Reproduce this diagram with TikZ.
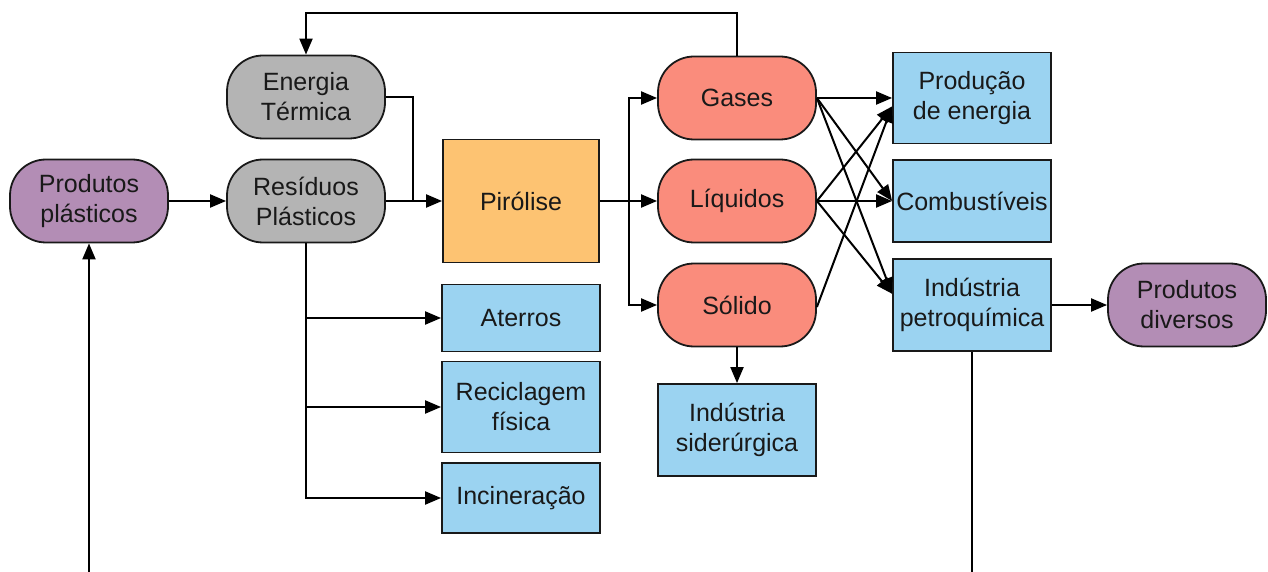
\documentclass[tikz,border=0pt]{standalone}
\usepackage{fontspec}
\setmainfont{Liberation Sans}
\usetikzlibrary{arrows.meta}

\definecolor{roxo}{HTML}{B38DB5}
\definecolor{cinza}{HTML}{B4B4B4}
\definecolor{laranja}{HTML}{FDC372}
\definecolor{salmao}{HTML}{FA8C7C}
\definecolor{azul}{HTML}{9BD3F1}

\begin{document}
\begin{tikzpicture}[x=0.5pt, y=-0.5pt,
    every node/.style={font=\fontsize{12.5}{15}\selectfont, align=center, inner sep=1.5pt, draw=black!90, line width=0.9pt, text=black!90},
    pill/.style={rounded corners=18pt, minimum width=79pt, minimum height=41.5pt},
    caixa/.style={fill=azul, minimum width=79pt},
    seta/.style={-{Triangle[length=8pt,width=6.5pt]}, line width=1pt},
    linha/.style={line width=1pt}]

    \useasboundingbox (0,0) rectangle (1268,572);

    \node (prodpl)   at ( 89, 201) [pill, fill=roxo]   {Produtos\\plásticos};
    \node (energia)  at (306,  97) [pill, fill=cinza]  {Energia\\Térmica};
    \node (residuos) at (306, 201) [pill, fill=cinza]  {Resíduos\\Plásticos};

    \node (pirolise) at (521, 201) [fill=laranja, minimum width=78pt, minimum height=61.5pt] {Pirólise};

    \node (aterros)  at (521, 318) [caixa, minimum height=33.5pt] {Aterros};
    \node (recic)    at (521, 407) [caixa, minimum height=45.5pt] {Reciclagem\\física};
    \node (incin)    at (521, 498) [caixa, minimum height=35pt]   {Incineração};

    \node (gases)    at (737,  98) [pill, fill=salmao] {Gases};
    \node (liquidos) at (737, 201) [pill, fill=salmao] {Líquidos};
    \node (solido)   at (737, 305) [pill, fill=salmao] {Sólido};
    \node (sider)    at (737, 430) [caixa, minimum height=46pt] {Indústria\\siderúrgica};

    \node (producao) at (972,  98) [caixa, minimum height=45.5pt] {Produção\\de energia};
    \node (combust)  at (972, 201) [caixa, minimum height=41pt]   {Combustíveis};
    \node (petro)    at (972, 305) [caixa, minimum height=46pt]   {Indústria\\petroquímica};
    \node (diversos) at (1187, 305) [pill, fill=roxo] {Produtos\\diversos};

    % pontos de junção e saídas pela borda
    \coordinate (junta) at (413, 201);
    \coordinate (divide) at (629, 201);
    \coordinate (baseL) at ( 89, 572);
    \coordinate (baseR) at (972, 572);

    \draw[seta] (prodpl.east) -- (residuos.west);
    \draw[seta] (residuos.east) -- (pirolise.west);
    \draw[linha] (energia.east) -| (junta);

    \draw[seta] (residuos.south) |- (incin.west);
    \draw[seta] (residuos.south |- aterros.west) -- (aterros.west);
    \draw[seta] (residuos.south |- recic.west) -- (recic.west);

    \draw[linha] (pirolise.east) -- (divide);
    \draw[seta] (divide) |- (gases.west);
    \draw[seta] (divide) -- (liquidos.west);
    \draw[seta] (divide) |- (solido.west);

    \draw[seta] (gases.north) -- ++(0,-43) -| (energia.north);
    \draw[seta] (solido.south) -- (sider.north);

    \draw[seta] (gases.east) -- (producao.west);
    \draw[seta] (gases.east) -- (combust.west);
    \draw[seta] (gases.east) -- (petro.172);
    \draw[seta] (liquidos.east) -- (producao.186);
    \draw[seta] (liquidos.east) -- (combust.west);
    \draw[seta] (liquidos.east) -- (petro.172);
    \draw[seta] ([yshift=-1pt]solido.east) -- (producao.186);

    \draw[seta] (petro.east) -- (diversos.west);
    \draw[linha] (petro.south) -- (baseR);
    \draw[seta] (baseL) -- (prodpl.south);

\end{tikzpicture}
\end{document}
